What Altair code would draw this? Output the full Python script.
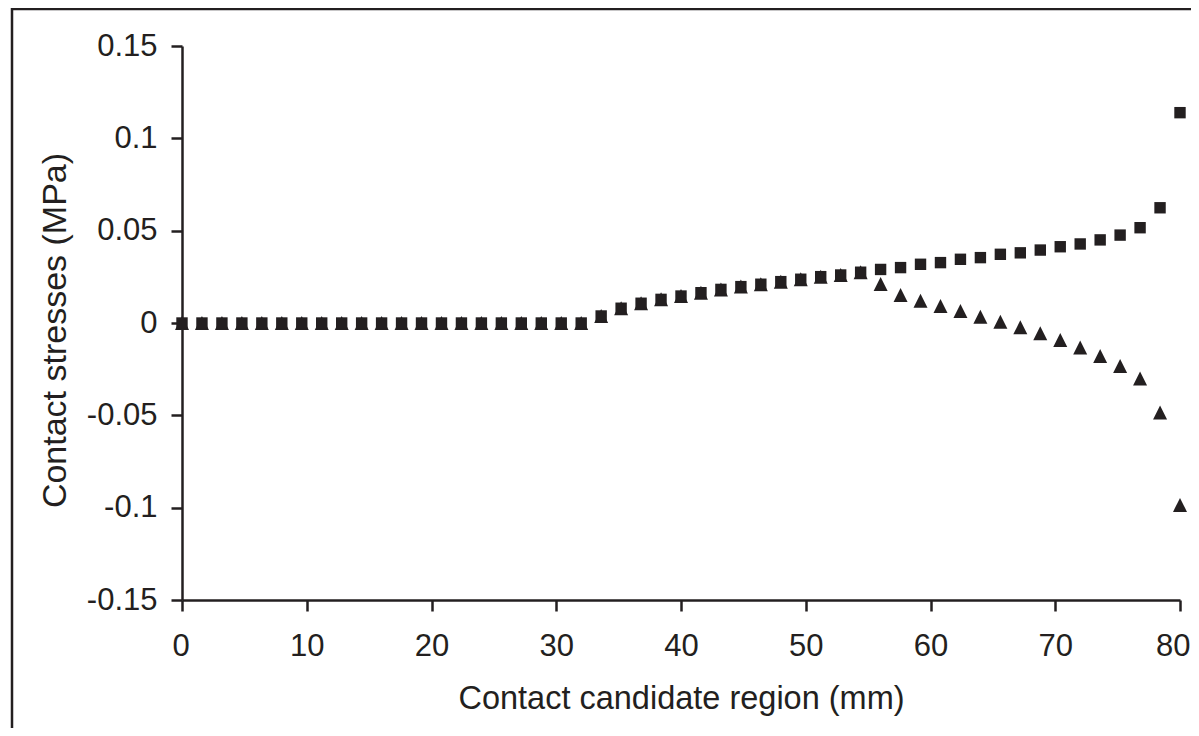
import altair as alt
import pandas as pd

# x positions (mm): 51 nodes, 1.6 mm apart
x_mm = [round(i * 1.6, 1) for i in range(51)]

# normal contact stress (squares)
sq_vals = [0.0] * 21 + [
    0.0038, 0.0080, 0.0107, 0.0128, 0.0146, 0.0164, 0.0182, 0.0197, 0.0210,
    0.0224, 0.0237, 0.0251, 0.0260, 0.0275, 0.0290, 0.0300, 0.0318, 0.0327,
    0.0345, 0.0354, 0.0372, 0.0380, 0.0395, 0.0413, 0.0428, 0.0450, 0.0476,
    0.0516, 0.0624, 0.1139,
]

# tangential contact stress (triangles)
tri_vals = [0.0] * 21 + [
    0.0038, 0.0080, 0.0107, 0.0128, 0.0146, 0.0164, 0.0182, 0.0197, 0.0210,
    0.0224, 0.0237, 0.0251, 0.0260, 0.0275, 0.0211, 0.0152, 0.0121, 0.0092,
    0.0065, 0.0034, 0.0007, -0.0023, -0.0056, -0.0092, -0.0132, -0.0179,
    -0.0233, -0.0300, -0.0484, -0.0985,
]

x_ticks = [0, 10, 20, 30, 40, 50, 60, 70, 80]
y_ticks = [-0.15, -0.1, -0.05, 0, 0.05, 0.1, 0.15]

INK = "#231f20"
FONT = "Liberation Sans"

df_sq = pd.DataFrame({"x": x_mm, "y": sq_vals})
df_tri = pd.DataFrame({"x": x_mm, "y": tri_vals})

x_enc = alt.X(
    "x:Q",
    scale=alt.Scale(domain=[0, 80], nice=False, zero=False),
    axis=alt.Axis(
        values=x_ticks,
        format="d",
        title="Contact candidate region (mm)",
        titleY=108,
        titleBaseline="alphabetic",
        titleFontSize=32.5,
        labelPadding=20,
        labelFlush=True,
        labelFlushOffset=10,
    ),
)
y_enc = alt.Y(
    "y:Q",
    scale=alt.Scale(domain=[-0.15, 0.15], nice=False),
    axis=alt.Axis(
        values=y_ticks,
        labelExpr="replace(format(datum.value, '~g'), '\u2212', '-')",
        title="Contact stresses (MPa)",
        titleX=-117,
        titleY=284,
        titleAngle=270,
        titleAlign="center",
        titleBaseline="alphabetic",
        titleFontSize=34,
        labelPadding=14,
        labelFlush=False,
    ),
)

tri = alt.Chart(df_tri).mark_point(
    shape="M0,-1L-1,1L1,1Z", filled=True, size=196, color=INK, opacity=1
).encode(x=x_enc, y=y_enc)

sq = alt.Chart(df_sq).mark_point(
    shape="square", filled=True, size=130, color=INK, opacity=1
).encode(x=x_enc, y=y_enc)

frame = alt.Chart(pd.DataFrame({"a": [0]})).mark_rect(
    fill=None, stroke=INK, strokeWidth=2.5
).encode(
    x=alt.value(-170), x2=alt.value(1200),
    y=alt.value(-37), y2=alt.value(900),
)

chart = alt.layer(frame, tri, sq).properties(
    width=998,
    height=554,
    background="white",
    autosize=alt.AutoSizeParams(type="none"),
    padding={"left": 174, "top": 38, "right": 11, "bottom": 128},
).configure_view(
    stroke=None
).configure_axis(
    grid=False,
    domainColor=INK,
    domainWidth=2.5,
    tickColor=INK,
    tickWidth=2.5,
    tickSize=11,
    labelFont=FONT,
    labelFontSize=31,
    labelColor=INK,
    titleFont=FONT,
    titleFontSize=32,
    titleFontWeight="normal",
    titleColor=INK,
)

chart.save("out.html", embed_options={"renderer": "svg", "actions": False})
